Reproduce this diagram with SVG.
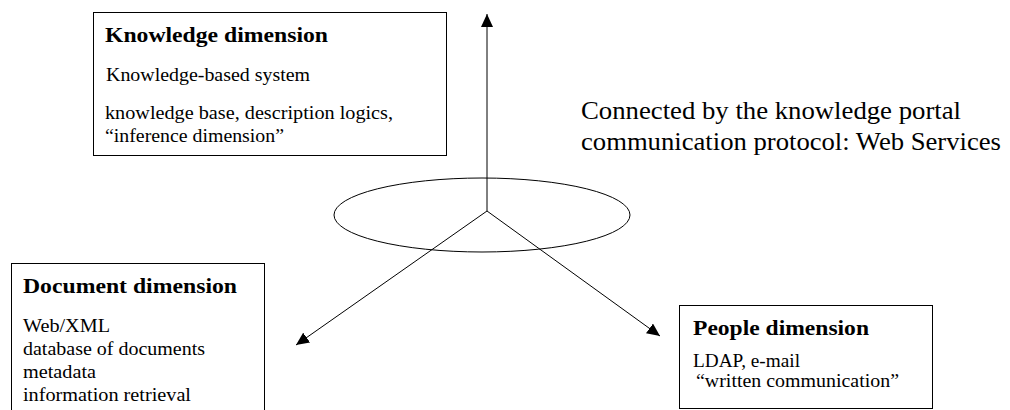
<svg xmlns="http://www.w3.org/2000/svg" width="1010" height="410" viewBox="0 0 1010 410">
<style>
text{font-family:"Liberation Serif","Times New Roman",serif;fill:#000}
.t{font-size:22px;font-weight:bold}
.b{font-size:19px}
.c{font-size:25px}
.box{fill:#fff;stroke:#000;stroke-width:1}
.ln{stroke:#000;stroke-width:1;fill:none}
</style>
<defs>
<marker id="ah" viewBox="0 0 13 12" refX="13" refY="6" markerWidth="13" markerHeight="12" markerUnits="userSpaceOnUse" orient="auto">
<path d="M0,0 L13,6 L0,12 Z" fill="#000"/>
</marker>
</defs>
<rect width="1010" height="410" fill="#fff"/>
<g id="connectors">
<ellipse class="ln" cx="482" cy="215" rx="148" ry="37"/>
<line class="ln" x1="487" y1="211" x2="487" y2="14" marker-end="url(#ah)"/>
<line class="ln" x1="487" y1="211" x2="296" y2="345" marker-end="url(#ah)"/>
<line class="ln" x1="487" y1="211" x2="660" y2="336" marker-end="url(#ah)"/>
</g>
<g id="knowledge">
<rect class="box" x="93.5" y="12.5" width="353" height="143"/>
<text class="t" x="105" y="42" textLength="223" lengthAdjust="spacingAndGlyphs">Knowledge dimension</text>
<text class="b" x="106" y="81" textLength="204" lengthAdjust="spacingAndGlyphs">Knowledge-based system</text>
<text class="b" x="105" y="119" textLength="288" lengthAdjust="spacingAndGlyphs">knowledge base, description logics,</text>
<text class="b" x="105" y="142" textLength="179" lengthAdjust="spacingAndGlyphs">“inference dimension”</text>
</g>
<g id="document">
<rect class="box" x="11.5" y="263.5" width="253" height="160"/>
<text class="t" x="23" y="293" textLength="214" lengthAdjust="spacingAndGlyphs">Document dimension</text>
<text class="b" x="23" y="332" textLength="87" lengthAdjust="spacingAndGlyphs">Web/XML</text>
<text class="b" x="23" y="355" textLength="182" lengthAdjust="spacingAndGlyphs">database of documents</text>
<text class="b" x="23" y="378" textLength="73" lengthAdjust="spacingAndGlyphs">metadata</text>
<text class="b" x="23" y="401" textLength="168" lengthAdjust="spacingAndGlyphs">information retrieval</text>
</g>
<g id="people">
<rect class="box" x="679.5" y="305.5" width="253" height="103"/>
<text class="t" x="693" y="335" textLength="176" lengthAdjust="spacingAndGlyphs">People dimension</text>
<text class="b" x="693" y="367" textLength="107" lengthAdjust="spacingAndGlyphs">LDAP, e-mail</text>
<text class="b" x="696" y="387" textLength="203" lengthAdjust="spacingAndGlyphs">“written communication”</text>
</g>
<g id="label">
<text class="c" x="581" y="119" textLength="380" lengthAdjust="spacingAndGlyphs">Connected by the knowledge portal</text>
<text class="c" x="581" y="150" textLength="420" lengthAdjust="spacingAndGlyphs">communication protocol: Web Services</text>
</g>
</svg>
